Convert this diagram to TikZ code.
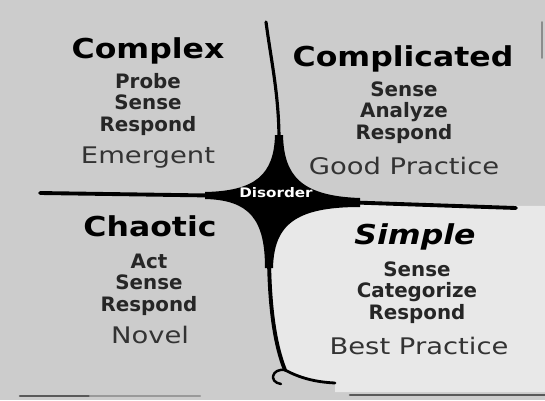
\documentclass[tikz,border=0pt]{standalone}
\usepackage{fontspec}
\usepackage{tikz}
\usetikzlibrary{
  calc,        % 坐标计算
  positioning  % 节点相对定位
}
% 字体：标题加宽加粗，动作列表常规粗体，实践一栏略加宽
\newfontfamily\headfont[FakeStretch=1.15]{DejaVu Sans}
\newfontfamily\actfont{DejaVu Sans}
\newfontfamily\practfont[FakeStretch=1.2]{DejaVu Sans}
\definecolor{paper}{gray}{0.80}
\definecolor{paperlight}{gray}{0.91}

\begin{document}
\begin{tikzpicture}[x=0.02cm, y=-0.02cm, line join=round, line cap=round,
  quadtitle/.style={font=\headfont\bfseries\fontsize{15.6pt}{18pt}\selectfont,
    anchor=base, inner sep=0pt},
  % 多行节点的 base 落在最后一行
  acts/.style={font=\actfont\bfseries\fontsize{11.3pt}{12pt}\selectfont,
    align=center, anchor=base, inner sep=0pt, text=black!85},
  practice/.style={font=\practfont\fontsize{13pt}{15pt}\selectfont,
    anchor=base, inner sep=0pt, text=black!80},
  border/.style={line width=2.2pt}]

  \useasboundingbox (0,0) rectangle (545,400);

  % =========== 底色 ===========
  \fill[paper] (0,0) rectangle (545,400);

  % 中心与四条分界线的端点
  \coordinate (C)  at (276,196);   % 中心 (Disorder)
  \coordinate (N)  at (266,22);    % 上端
  \coordinate (W)  at (40,193);    % 左端
  \coordinate (E)  at (516,208);   % 右端
  \coordinate (S)  at (285,370);   % 下端分叉处
  \coordinate (S1) at (335,383);   % 分叉向右的尾巴

  % 右下象限颜色较浅
  \fill[paperlight] (272,262) .. controls (270,310) and (275,345) .. (S)
    .. controls (300,378) and (315,382) .. (S1) -- (335,392) -- (545,392)
    -- (545,206) -- (360,205) .. controls (295,207) and (274,225) .. (272,262) -- cycle;

  % =========== 中心的黑色四角星 (四个象限的圆角围出来) ===========
  \fill (275,135) .. controls (274,175) and (255,191) .. (205,192) -- (205,199)
    .. controls (250,200) and (265,220) .. (265,268) -- (273,268)
    .. controls (274,225) and (295,207) .. (360,207) -- (360,198)
    .. controls (300,196) and (284,175) .. (283,135) -- cycle;

  % =========== 分界线 ===========
  \draw[line width=1.8pt] (N) .. controls (271,60) and (279,95) .. (279,140);
  \draw[border] (W) -- (210,195.5);
  \draw[border] (355,202.5) -- (E);
  \draw[border] (269,262) .. controls (270,310) and (275,345) .. (S);
  \draw[line width=1.6pt] (S) .. controls (300,378) and (315,382) .. (S1);
  \draw[line width=1.4pt] (S) .. controls (272,368) and (268,382) .. (281,384);

  \node[font=\headfont\bfseries\fontsize{7.5pt}{8pt}\selectfont, text=white,
    inner sep=0pt] (disorder) at (276,193) {Disorder};

  % =========== 左上：Complex ===========
  \node[quadtitle] (complex) at (148,58) {Complex};
  \node[acts] (complex-acts) at (148,131) {Probe\\Sense\\Respond};
  \node[practice] (emergent) at (148,163) {Emergent};

  % =========== 右上：Complicated ===========
  \node[quadtitle] (complicated) at (403,66) {Complicated};
  \node[acts] (complicated-acts) at (404,139) {Sense\\Analyze\\Respond};
  \node[practice] (good) at (404,174) {Good Practice};

  % =========== 左下：Chaotic ===========
  \node[quadtitle] (chaotic) at (150,236) {Chaotic};
  \node[acts] (chaotic-acts) at (149,311) {Act\\Sense\\Respond};
  \node[practice] (novel) at (150,343) {Novel};

  % =========== 右下：Simple (斜体) ===========
  \node[quadtitle, font=\headfont\bfseries\itshape\fontsize{15.6pt}{18pt}\selectfont]
    (simple) at (415,244) {Simple};
  \node[acts] (simple-acts) at (417,319) {Sense\\Categorize\\Respond};
  \node[practice] (best) at (419,354) {Best Practice};

  % 底边与右边的暗色条纹
  \draw[black!65, line width=1.5pt] (20,396) -- (90,396);
  \draw[black!40, line width=1.2pt] (90,396) -- (200,396);
  \draw[black!65, line width=1.5pt] (350,395) -- (545,395);
  \draw[black!45, line width=1pt] (542,22) -- (542,58);

\end{tikzpicture}
\end{document}
